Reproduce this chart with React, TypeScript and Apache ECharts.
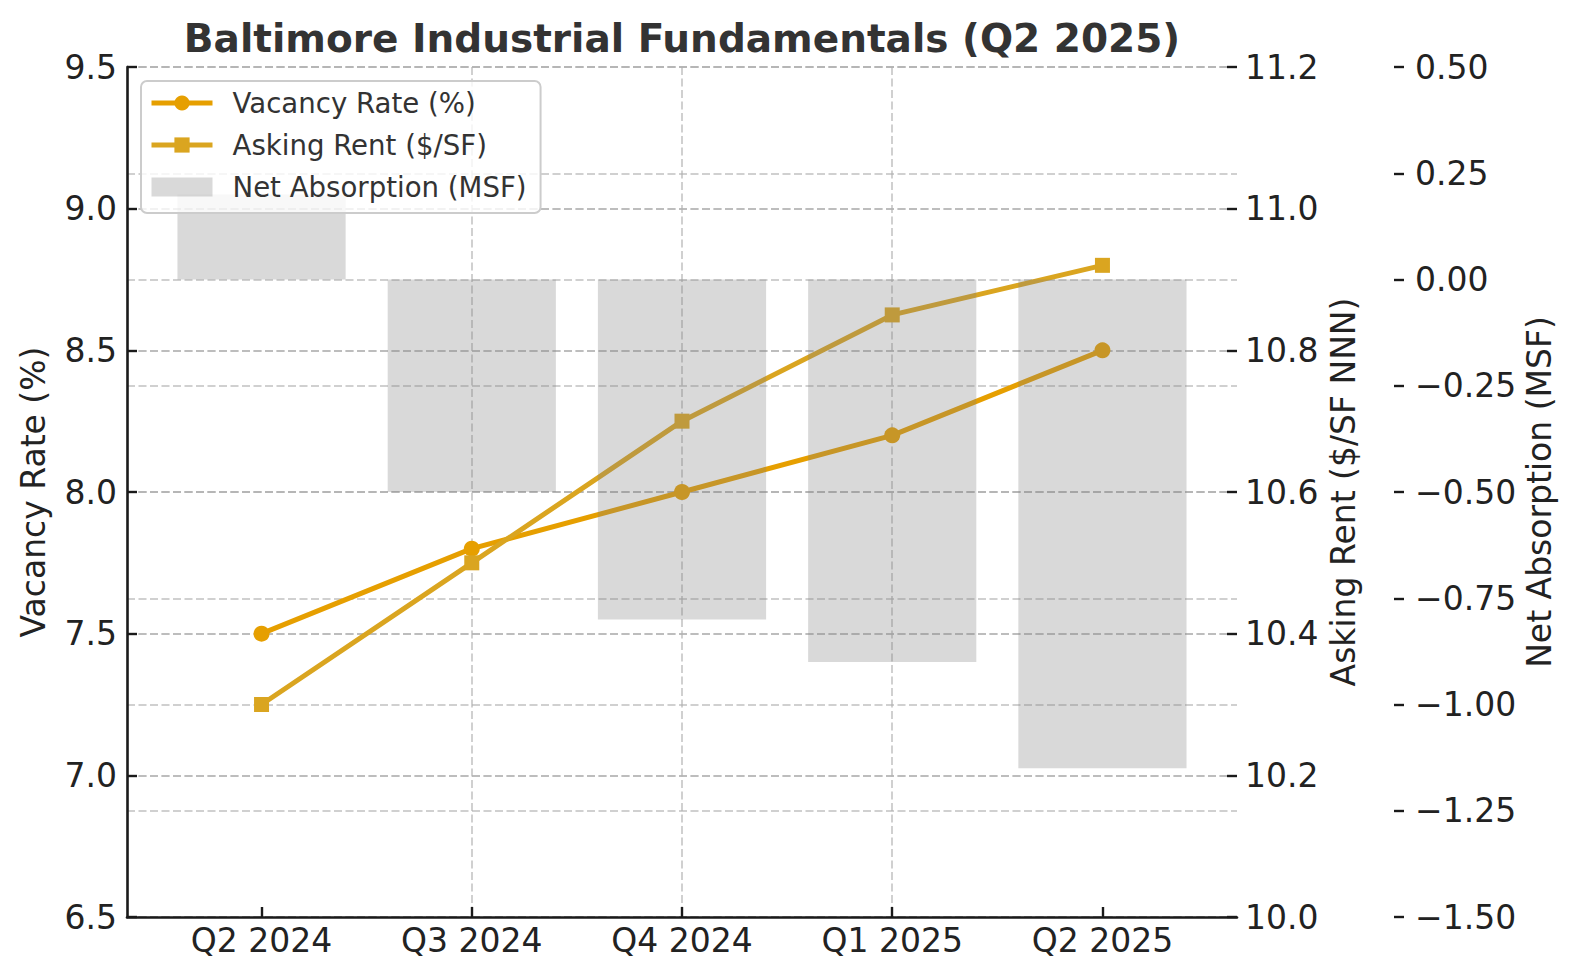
import React, { useEffect, useRef } from "react";
import * as echarts from "echarts";

const categories = ["Q2 2024", "Q3 2024", "Q4 2024", "Q1 2025", "Q2 2025"];
const vacancyRate = [7.5, 7.8, 8.0, 8.2, 8.5];
const askingRent = [10.3, 10.5, 10.7, 10.85, 10.92];
const netAbsorption = [0.2, -0.5, -0.8, -0.9, -1.15];

const vacancyAxis = [6.5, 9.5, 0.5];
const rentAxis = [10.0, 11.2, 0.2];
const absorptionAxis = [-1.5, 0.5, 0.25];

const FONT = "DejaVu Sans";
const INK = "#222222";
const SPINE = "#1a1a1a";
const VAC_COLOR = "#E69F00";
const RENT_COLOR = "#DAA520";
const LINE_W = 5;
const GRID_LINE = { color: "rgba(176,176,176,0.6)", width: 2, type: [8, 3.5] as number[] };

const minus = (s: string) => s.replace("-", "\u2212");

export default function App() {
  const ref = useRef<HTMLDivElement>(null);
  useEffect(() => {
    if (!ref.current) return;
    const chart = echarts.init(ref.current, undefined, { renderer: "svg" });
    const idx = categories.map((_, i) => i);
    const xPad = 0.64;
    const yCommon = (extra: any) => ({
      type: "value",
      nameLocation: "middle",
      nameRotate: 90,
      nameMoveOverlap: false,
      nameTextStyle: { fontSize: 33, color: INK, fontFamily: FONT },
      axisTick: { show: true, inside: true, length: 10, lineStyle: { color: SPINE, width: 2.4 } },
      ...extra,
    });
    const option: any = {
      animation: false,
      textStyle: { fontFamily: FONT },
      title: {
        text: "Baltimore Industrial Fundamentals (Q2 2025)",
        left: 682,
        top: 19,
        padding: 0,
        textAlign: "center",
        textStyle: { fontSize: 39, fontWeight: "bold", color: "#333333", fontFamily: FONT },
      },
      legend: {
        orient: "vertical",
        left: 141,
        top: 81,
        padding: [8, 14, 12, 8],
        itemGap: 14,
        itemWidth: 61,
        itemHeight: 19,
        backgroundColor: "rgba(255,255,255,0.8)",
        borderColor: "#cccccc",
        borderWidth: 2,
        borderRadius: 6,
        textStyle: { fontSize: 27.6, color: "#333333", fontFamily: FONT, padding: [0, 0, 0, 15] },
        data: [
          { name: "Vacancy Rate (%)", lineStyle: { width: LINE_W, color: VAC_COLOR } },
          { name: "Asking Rent ($/SF)", lineStyle: { width: LINE_W, color: RENT_COLOR } },
          { name: "Net Absorption (MSF)", icon: "rect" },
        ],
      },
      grid: {
        left: 127,
        right: 343,
        top: 67,
        bottom: 63,
        containLabel: false,
        outerBoundsMode: "none",
      },
      xAxis: {
        type: "value",
        min: -xPad,
        max: categories.length - 1 + xPad,
        minInterval: 1,
        maxInterval: 1,
        axisLine: { show: true, onZero: false, lineStyle: { color: SPINE, width: 2.6 } },
        axisTick: {
          show: true,
          inside: true,
          length: 10,
          customValues: idx,
          lineStyle: { color: SPINE, width: 2.4 },
        },
        axisLabel: {
          customValues: idx,
          margin: 7,
          fontSize: 33,
          color: INK,
          fontFamily: FONT,
          formatter: (v: number) => (Number.isInteger(v) && categories[v] ? categories[v] : ""),
        },
        splitLine: { show: true, showMinLine: false, showMaxLine: false, lineStyle: GRID_LINE },
      },
      yAxis: [
        yCommon({
          position: "left",
          name: "Vacancy Rate (%)",
          nameGap: 77,
          min: vacancyAxis[0],
          max: vacancyAxis[1],
          interval: vacancyAxis[2],
          axisLine: { show: true, onZero: false, lineStyle: { color: SPINE, width: 2.6 } },
          axisLabel: {
            fontSize: 33,
            color: INK,
            fontFamily: FONT,
            margin: 10,
            showMinLabel: true,
            showMaxLabel: true,
            formatter: (v: number) => v.toFixed(1),
          },
          splitLine: { show: true, lineStyle: GRID_LINE },
        }),
        yCommon({
          position: "right",
          offset: 0,
          name: "Asking Rent ($/SF NNN)",
          nameGap: 90,
          min: rentAxis[0],
          max: rentAxis[1],
          interval: rentAxis[2],
          axisLine: { show: false, onZero: false },
          axisLabel: {
            fontSize: 33,
            color: INK,
            fontFamily: FONT,
            margin: 8,
            showMinLabel: true,
            showMaxLabel: true,
            formatter: (v: number) => v.toFixed(1),
          },
          splitLine: { show: true, lineStyle: GRID_LINE },
        }),
        yCommon({
          position: "right",
          offset: 167,
          name: "Net Absorption (MSF)",
          nameGap: 119,
          min: absorptionAxis[0],
          max: absorptionAxis[1],
          interval: absorptionAxis[2],
          axisLine: { show: false, onZero: false },
          axisLabel: {
            fontSize: 33,
            color: INK,
            fontFamily: FONT,
            margin: 11,
            showMinLabel: true,
            showMaxLabel: true,
            formatter: (v: number) => minus(v.toFixed(2)),
          },
          splitLine: { show: true, lineStyle: GRID_LINE },
        }),
      ],
      series: [
        {
          name: "Vacancy Rate (%)",
          type: "line",
          yAxisIndex: 0,
          z: 2,
          data: idx.map((i) => [i, vacancyRate[i]]),
          symbol: "circle",
          symbolSize: 16,
          lineStyle: { color: VAC_COLOR, width: LINE_W },
          itemStyle: { color: VAC_COLOR },
        },
        {
          name: "Asking Rent ($/SF)",
          type: "line",
          yAxisIndex: 1,
          z: 2,
          data: idx.map((i) => [i, askingRent[i]]),
          symbol: "rect",
          symbolSize: 15,
          lineStyle: { color: RENT_COLOR, width: LINE_W },
          itemStyle: { color: RENT_COLOR },
        },
        {
          name: "Net Absorption (MSF)",
          type: "bar",
          yAxisIndex: 2,
          z: 3,
          barWidth: "80%",
          data: idx.map((i) => [i, netAbsorption[i]]),
          itemStyle: { color: "rgba(128,128,128,0.3)" },
        },
      ],
    };
    chart.setOption(option);
    return () => chart.dispose();
  }, []);
  return (
    <div
      ref={ref}
      style={{ position: "fixed", left: 0, top: 0, width: 1580, height: 980, background: "#ffffff" }}
    />
  );
}
